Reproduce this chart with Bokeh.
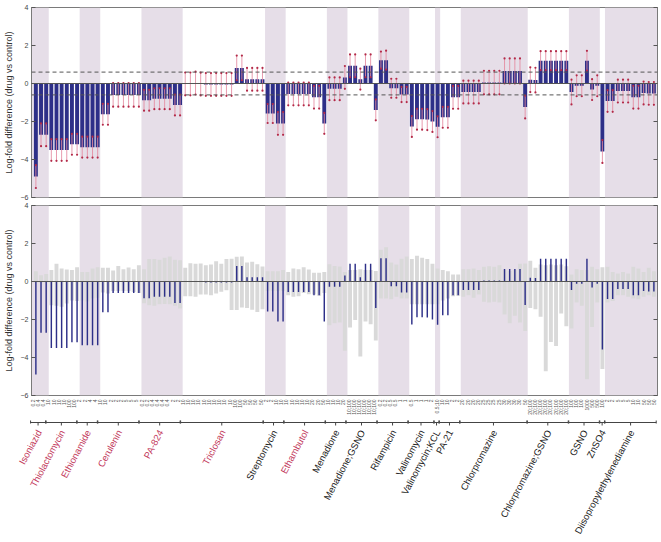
import numpy as np
from bokeh.plotting import figure
from bokeh.models import Range1d, ColumnDataSource, FixedTicker, LinearAxis, Span
from bokeh.layouts import column
from bokeh.embed import file_html
from bokeh.resources import INLINE
from bokeh.core.properties import value

# ---------------- data ----------------
groups = ["Isoniazid", "Thiolactomycin", "Ethionamide", "Cerulenin", "PA-824", "Triclosan",
          "Streptomycin", "Ethambutol", "Menadione", "Menadione;GSNO", "Rifampicin",
          "Valinomycin", "Valinomycin;KCL", "PA-21", "Chlorpromazine", "Chlorpromazine;GSNO",
          "GSNO", "ZnSO4", "Diisopropylethylenediamine"]
group_sizes = [3, 6, 4, 8, 8, 16, 4, 8, 4, 6, 6, 5, 1, 4, 13, 8, 6, 1, 10]
group_is_cellwall = [True, True, True, True, True, True, False, True, False, False, False,
                     False, False, False, False, False, False, False, False]

conc_labels = [
    "0.2", "0.4", "0.4",
    "10", "10", "10", "10", "100", "100",
    "2", "2", "4", "4",
    "10", "10", "2", "2", "2", "5", "5", "5",
    "0.2", "0.2", "0.4", "0.4", "0.4", "0.4", "2", "2",
    "10", "10", "10", "10", "10", "10", "10", "10", "10", "10", "100", "100", "50", "50", "50", "50",
    "2", "2", "10", "10",
    "10", "10", "10", "10", "10", "20", "20", "50",
    "10", "10", "10", "20",
    "10;100", "10;100", "10;100", "10;100", "10;100", "10;100",
    "0.2", "0.2", "0.5", "0.5", "1", "1",
    "0.5", "1", "1", "1", "2",
    "0.5;10",
    "10", "10", "2", "2",
    "20", "20", "20", "20", "25", "25", "25", "25", "30", "30", "30", "30", "50",
    "20;100", "20;100", "20;100", "20;100", "20;100", "20;100", "20;100", "20;100",
    "100", "100", "100", "1000", "500", "500",
    "100",
    "2", "2", "5", "5", "5", "10", "10", "50", "50", "50",
]

log_fold = [
    -4.9, -2.7, -2.7,
    -3.5, -3.5, -3.5, -3.5, -3.2, -3.2,
    -3.35, -3.35, -3.35, -3.35,
    -1.62, -1.62, -0.6, -0.6, -0.6, -0.6, -0.6, -0.6,
    -0.88, -0.88, -0.8, -0.8, -0.8, -0.8, -1.13, -1.13,
    -0.02, -0.02, 0.02, -0.03, -0.05, -0.05, -0.05, -0.05, -0.05, -0.05, 0.82, 0.82, 0.22, 0.22, 0.22, 0.22,
    -1.58, -1.58, -2.1, -2.1,
    -0.55, -0.55, -0.55, -0.55, -0.55, -0.72, -0.72, -2.1,
    -0.28, -0.28, -0.28, 0.32,
    0.93, 0.93, 0.23, 0.93, 0.93, -1.39,
    1.23, 1.23, -0.25, -0.25, -0.58, -0.58,
    -2.26, -1.88, -1.88, -1.9, -2.0,
    -2.28,
    -1.78, -1.78, -0.73, -0.73,
    -0.45, -0.45, -0.45, -0.45, 0.05, 0.05, 0.05, 0.05, 0.66, 0.66, 0.66, 0.66, -1.24,
    0.2, 0.18, 1.2, 1.2, 1.2, 1.2, 1.2, 1.2,
    -0.45, -0.12, -0.12, 1.2, -0.32, -0.12,
    -3.58,
    -0.92, -0.92, -0.4, -0.4, -0.4, -0.72, -0.72, -0.5, -0.52, -0.52,
]

log_fold_err = [
    0.6, 0.6, 0.6,
    0.57, 0.57, 0.57, 0.57, 0.55, 0.55,
    0.55, 0.55, 0.55, 0.55,
    0.55, 0.55, 0.62, 0.62, 0.62, 0.62, 0.62, 0.62,
    0.55, 0.55, 0.55, 0.55, 0.55, 0.55, 0.55, 0.55,
    0.6, 0.6, 0.6, 0.6, 0.6, 0.6, 0.6, 0.6, 0.6, 0.6, 0.65, 0.65, 0.6, 0.6, 0.6, 0.6,
    0.5, 0.5, 0.6, 0.6,
    0.6, 0.6, 0.6, 0.6, 0.6, 0.6, 0.6, 0.55,
    0.6, 0.6, 0.6, 0.6,
    0.6, 0.6, 0.55, 0.6, 0.6, 0.55,
    0.45, 0.5, 0.5, 0.5, 0.4, 0.4,
    0.55, 0.55, 0.55, 0.55, 0.55,
    0.55,
    0.55, 0.55, 0.6, 0.6,
    0.6, 0.6, 0.6, 0.6, 0.62, 0.62, 0.62, 0.62, 0.66, 0.66, 0.66, 0.66, 0.6,
    0.65, 0.65, 0.5, 0.5, 0.5, 0.5, 0.5, 0.5,
    0.65, 0.55, 0.55, 0.52, 0.55, 0.55,
    0.6,
    0.57, 0.57, 0.6, 0.6, 0.6, 0.6, 0.6, 0.6, 0.6, 0.6,
]

null_upper = [
    0.54, 0.33, 0.4,
    0.6, 0.93, 0.68, 0.63, 0.6, 0.75,
    0.5, 0.5, 0.68, 0.75,
    0.72, 0.72, 0.58, 0.82, 0.65, 0.74, 0.65, 0.86,
    0.65, 1.18, 1.18, 1.14, 1.25, 1.32, 1.14, 1.12,
    0.72, 0.96, 0.93, 0.95, 0.86, 0.9, 1.07, 0.93, 1.18, 1.2, 1.3, 1.32, 1.0, 1.04, 0.91, 0.79,
    0.54, 0.54, 0.54, 0.6,
    0.5, 0.68, 0.65, 0.75, 0.63, 0.46, 0.46, 0.5,
    0.91, 0.82, 0.79, 0.5,
    0.6, 0.6, 0.65, 0.6, 0.6, 0.55,
    1.67, 1.8, 1.0, 0.9, 1.2, 1.32,
    1.18, 1.35, 1.25, 1.18, 0.93,
    0.68,
    0.6, 0.54, 0.37, 0.37,
    0.65, 0.65, 0.68, 0.6, 0.77, 0.8, 0.77, 0.86, 0.6, 0.55, 0.6, 0.93, 0.95,
    1.09, 0.72, 0.9, 0.85, 0.9, 0.85, 0.9, 0.8,
    0.37, 0.65, 0.6, 0.6, 0.77, 0.65,
    0.75,
    0.77, 0.5, 0.42, 0.5, 0.42, 0.77, 0.68, 0.5, 0.72, 0.54,
]

null_lower = [
    -0.05, -0.05, -0.05,
    -1.25, -1.28, -1.33, -1.16, -1.0, -1.03,
    -1.0, -1.05, -0.9, -0.85,
    -0.58, -0.63, -0.5, -0.5, -0.5, -0.5, -0.55, -0.6,
    -1.15, -1.25, -1.28, -1.2, -1.18, -1.2, -1.28, -1.42,
    -0.77, -0.77, -0.8, -0.68, -0.68, -0.72, -0.63, -0.54, -0.46, -1.5, -1.5, -1.37, -1.39, -1.49, -1.6, -1.46,
    -0.5, -0.5, -0.5, -0.5,
    -0.72, -0.8, -0.77, -0.61, -0.67, -0.68, -0.75, -0.6,
    -2.3, -2.2, -2.16, -3.65,
    -2.42, -2.03, -3.95, -2.1, -2.25, -3.1,
    -0.9, -0.9, -0.93, -0.8, -0.9, -0.9,
    -1.2, -1.2, -1.2, -1.2, -1.2,
    -1.2,
    -1.0, -0.9, -0.77, -0.75,
    -0.8, -0.72, -0.86, -0.68, -1.07, -1.1, -1.07, -1.1, -1.74, -2.2, -1.8, -2.16, -2.6,
    -1.39, -1.46, -1.86, -4.72, -3.18, -3.39, -1.68, -2.35,
    -2.47, -1.1, -1.28, -5.14, -2.39, -1.1,
    -4.61,
    -1.1, -1.03, -0.72, -0.72, -0.8, -0.9, -0.93, -0.8, -0.72, -0.8,
]

threshold = 0.6
y_ticks = [-6, -4, -2, 0, 2, 4]

# ---------------- styling ----------------
FONT = "Liberation Sans"
NAVY = "#2d2f88"
SHADE = "#e6dee8"
GREY = "#d9d9d9"
WHISK = "#e48aa0"
CAP = "#b32a48"
RED = "#c2375a"
W = 660
LB, RB = 28, 3
FRAME_H = 190
FRAME_W = W - LB - RB

n = len(log_fold)
xs = np.arange(1, n + 1)
xr = Range1d(0.15, n + 0.7)

# label strip spans the full width with the same data-per-pixel scale as the panels
upp = (xr.end - xr.start) / FRAME_W
xr_lab = Range1d(xr.start - LB * upp, xr.end + RB * upp)

starts = np.cumsum([0] + group_sizes[:-1]) + 1
ends = starts + np.array(group_sizes) - 1
centers = (starts + ends) / 2.0

shade_left = [s - 0.5 for s, i in zip(starts, range(len(groups))) if i % 2 == 0]
shade_right = [e + 0.5 for e, i in zip(ends, range(len(groups))) if i % 2 == 0]
shade_left[0] = xr.start
if (len(groups) - 1) % 2 == 0:
    shade_right[-1] = xr.end


def make_panel(mb_top, mb_bottom):
    p = figure(width=W, height=mb_top + FRAME_H + mb_bottom, x_range=xr, y_range=Range1d(-6, 4),
               output_backend="svg", toolbar_location=None, x_axis_location=None,
               min_border_left=LB, min_border_right=RB, min_border_top=mb_top,
               min_border_bottom=mb_bottom)
    p.xgrid.visible = False
    p.ygrid.visible = False
    p.outline_line_color = "#7a7a7a"
    p.outline_line_width = 1
    p.background_fill_color = "white"
    p.border_fill_color = "white"
    ax = p.yaxis[0]
    ax.ticker = FixedTicker(ticks=y_ticks)
    ax.major_tick_in = 4
    ax.major_tick_out = 0
    ax.minor_tick_line_color = None
    ax.axis_line_color = "#7a7a7a"
    ax.major_tick_line_color = "#555555"
    ax.major_label_text_font = FONT
    ax.major_label_text_font_size = "7px"
    ax.major_label_text_color = "#444444"
    ax.major_label_standoff = 3
    ax.axis_label = "Log-fold difference (drug vs control)"
    ax.axis_label_text_font = FONT
    ax.axis_label_text_font_size = "9px"
    ax.axis_label_text_font_style = "normal"
    ax.axis_label_text_color = "#333333"
    ax.axis_label_standoff = 4
    rax = LinearAxis(ticker=FixedTicker(ticks=y_ticks), major_tick_in=4, major_tick_out=0,
                     minor_tick_line_color=None, axis_line_color="#7a7a7a",
                     major_tick_line_color="#555555", major_label_standoff=0,
                     major_label_overrides={t: "" for t in y_ticks},
                     major_label_text_font_size="1px")
    p.add_layout(rax, "right")
    p.quad(left=shade_left, right=shade_right, bottom=-6, top=4, color=SHADE, line_color=None)
    return p


# top panel
top = make_panel(7, 4)
src = ColumnDataSource(dict(x=xs, v=log_fold, lo=np.array(log_fold) - np.array(log_fold_err),
                            hi=np.array(log_fold) + np.array(log_fold_err)))
top.vbar(x="x", top="v", bottom=0, width=0.76, source=src, fill_color=NAVY, line_color=None)
top.segment(x0="x", y0="lo", x1="x", y1="hi", source=src, line_color=WHISK, line_width=1,
            line_alpha=0.85)
top.scatter(x="x", y="lo", source=src, size=2.2, fill_color=CAP, line_color=None, marker="circle")
top.scatter(x="x", y="hi", source=src, size=2.2, fill_color=CAP, line_color=None, marker="circle")
top.add_layout(Span(location=0, dimension="width", line_color="#555555", line_width=1))
for t in (threshold, -threshold):
    top.add_layout(Span(location=t, dimension="width", line_color="#555555", line_width=1,
                        line_dash="4 3"))

# bottom panel
bot = make_panel(4, 3)
bsrc = ColumnDataSource(dict(x=xs, v=log_fold, up=null_upper, lo=null_lower))
bot.vbar(x="x", top="up", bottom="lo", width=0.76, source=bsrc, fill_color=GREY, line_color=None)
bot.add_layout(Span(location=0, dimension="width", line_color="#555555", line_width=1))
bot.vbar(x="x", top="v", bottom=0, width=0.28, source=bsrc, fill_color=NAVY, line_color=None)

# label strip
LH = 143
lab = figure(width=W, height=LH, x_range=xr_lab, y_range=Range1d(0, LH), output_backend="svg",
             toolbar_location=None, x_axis_location=None, y_axis_location=None,
             min_border_left=0, min_border_right=0, min_border_top=0, min_border_bottom=0)
lab.frame_align = False
lab.xgrid.visible = False
lab.ygrid.visible = False
lab.outline_line_color = None

lab.text(x=xs, y=[LH - 1] * n, text=conc_labels, angle=np.pi / 2, text_align="right",
         text_baseline="middle", text_font=value(FONT), text_font_size="5px", text_color="#555555")

by = LH - 24
lab.segment(x0=starts - 0.45, y0=by, x1=ends + 0.45, y1=by, line_color="#444444", line_width=1)
lab.segment(x0=starts - 0.45, y0=by - 1, x1=starts - 0.45, y1=by + 2, line_color="#444444", line_width=1)
lab.segment(x0=ends + 0.45, y0=by - 1, x1=ends + 0.45, y1=by + 2, line_color="#444444", line_width=1)
lab.segment(x0=centers, y0=by, x1=centers, y1=by - 3, line_color="#444444", line_width=1)

gsrc = ColumnDataSource(dict(x=centers + 0.2, y=[by - 8] * len(groups), text=groups,
                             color=[RED if c else "#1a1a1a" for c in group_is_cellwall]))
lab.text(x="x", y="y", text="text", source=gsrc, angle=np.deg2rad(62),
         text_align="right", text_baseline="middle", text_font=value(FONT),
         text_font_size="9.5px", text_color="color")

layout = column(top, bot, lab)
open("out.html", "w").write(file_html(layout, INLINE))
